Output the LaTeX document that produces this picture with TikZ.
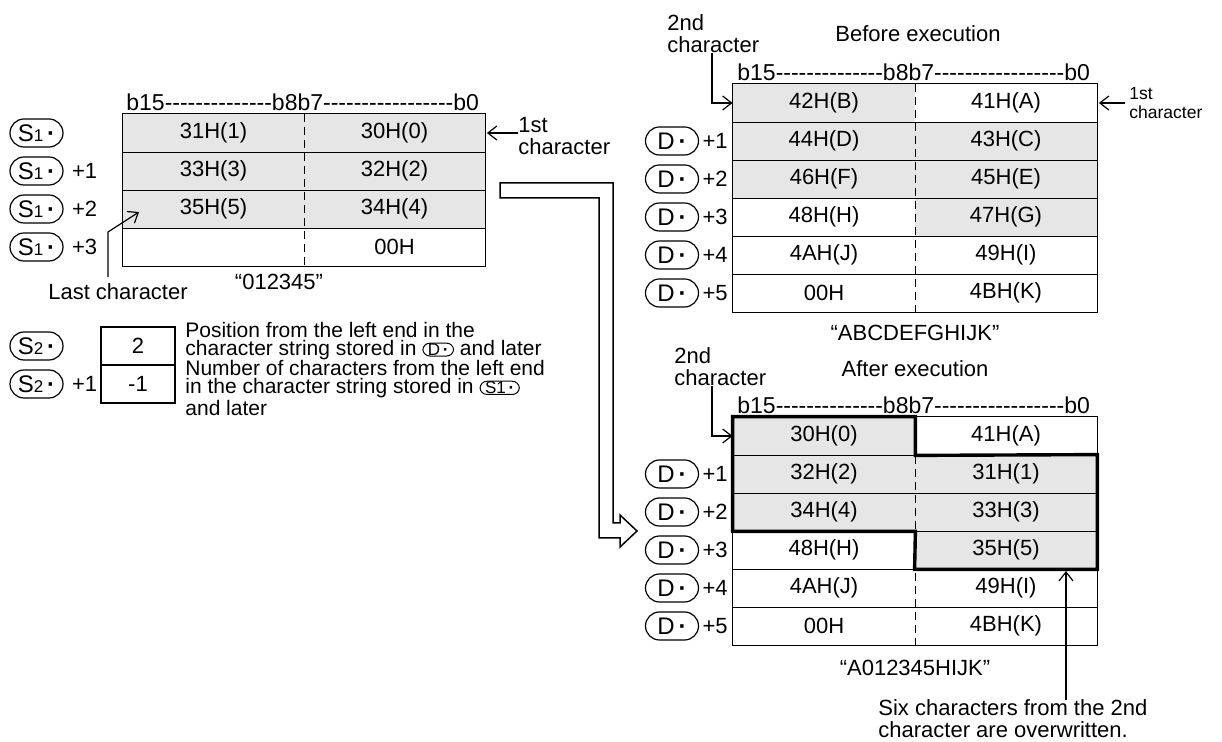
\documentclass[tikz,border=0pt]{standalone}
\usepackage{fontspec}
\setmainfont{Liberation Sans}[Ligatures=TeXOff]
\usetikzlibrary{arrows.meta,positioning}
\definecolor{cellgray}{HTML}{E6E6E6}
\newcommand{\opdot}{\,\textbf{·}}
\newcommand{\idx}[1]{{\fontsize{8.5}{9}\selectfont #1}}
\newcommand{\inlineop}[1]{\smash{\tikz[baseline=(io.base)]\node[draw, line width=0.5pt, rounded corners=3.5pt,
  inner xsep=2.5pt, inner ysep=0.3pt, font=\fontsize{8.5}{8.5}\selectfont] (io) {#1};}}

\begin{document}
\begin{tikzpicture}[x=0.5pt, y=-0.5pt,
  font=\fontsize{11}{13}\selectfont,
  cell/.style={minimum width=91pt, minimum height=19pt, inner sep=0pt},
  shaded/.style={cell, fill=cellgray},
  plain/.style={cell},
  grid/.style={line width=0.7pt},
  divider/.style={line width=0.7pt, dash pattern=on 4pt off 2.5pt},
  bold/.style={line width=1.7pt, line join=miter},
  oval/.style={draw, line width=0.6pt, rounded corners=7pt, font=\fontsize{12}{13}\selectfont,
               minimum width=26.5pt, minimum height=14pt, inner sep=0pt},
  offset/.style={inner sep=1pt},
  header/.style={inner sep=0pt, font=\fontsize{11.5}{12}\selectfont},
  label/.style={align=left, inner sep=0pt, font=\fontsize{11}{11}\selectfont},
  tiny/.style={align=left, inner sep=0pt, font=\fontsize{8.75}{9.5}\selectfont},
  note/.style={align=left, inner sep=0pt, font=\fontsize{10.5}{9}\selectfont},
  pointer/.style={-{Straight Barb[length=4.5pt,width=7pt]}, line width=0.6pt},
  hollow/.style={draw, line width=0.75pt, fill=white, line join=miter}
]
\useasboundingbox[fill=white] (0,0) rectangle (1222,742);

% source string (S1)
\foreach \i/\lt/\rt/\ls/\rs in {0/{31H(1)}/{30H(0)}/shaded/shaded, 1/{33H(3)}/{32H(2)}/shaded/shaded,
    2/{35H(5)}/{34H(4)}/shaded/shaded, 3/{}/{00H}/plain/plain}{
  \node[\ls, minimum width=90.5pt] (srcl\i) at (213.5, 133+38*\i) {\lt};
  \node[\rs, minimum width=90.5pt] (srcr\i) at (394.5, 133+38*\i) {\rt};
  \node[oval] (srco\i) at (36.5, 133+38*\i) {S\idx{1}\opdot};
  \ifnum\i>0 \node[offset, right=3pt of srco\i] (srcn\i) {+\i};\fi
}
\draw[grid] (srcl0.north west) rectangle (srcr3.south east);
\foreach \i in {0,1,2} \draw[grid] (srcl\i.south west) -- (srcr\i.south east);
\draw[divider] (srcl0.north east) -- (srcl3.south east);
\node[header, anchor=base west] (srchead) at (126, 111) {b15--------------b8b7-----------------b0};
\node (srcstr) at (279, 282) {“012345”};

\node[label, anchor=west] (srcfirst) at (518, 136) {1st\\character};
\draw[pointer] (srcfirst.west |- srcr0.east) -- ([xshift=0.75pt]srcr0.east);

\node (lastlbl) at (118, 292) {Last character};
\coordinate (lastbend) at (108, 232);
\coordinate (lasttip) at (139, 212);
\draw[pointer] (lastlbl.north -| lastbend) -- (lastbend) -- (lasttip);

% parameters (S2)
\node[cell, draw, line width=0.7pt, minimum width=37pt] (parl0) at (138, 346) {2};
\node[cell, draw, line width=0.7pt, minimum width=37pt] (parl1) at (138, 384) {-1};
\node[oval] (paro0) at (36.5, 346) {S\idx{2}\opdot};
\node[oval] (paro1) at (36.5, 384) {S\idx{2}\opdot};
\node[offset, right=3pt of paro1] (parn1) {+1};
\node[note, anchor=west] (posnote) at (185, 341)
  {Position from the left end in the\\character string stored in \inlineop{D\opdot} and later};
\node[note, anchor=west] (numnote) at (185, 388)
  {Number of characters from the left end\\in the character string stored in \inlineop{S\idx{1}\opdot}\\and later};

% transfer arrow
\draw[hollow] (500,183) -- (613,183) -- (613,523) -- (620,523) -- (620,515) -- (637,531)
  -- (620,547) -- (620,538) -- (599,538) -- (599,198) -- (500,198) -- cycle;

% before execution
\foreach \i/\lt/\rt/\ls/\rs in {0/{42H(B)}/{41H(A)}/shaded/plain, 1/{44H(D)}/{43H(C)}/shaded/shaded,
    2/{46H(F)}/{45H(E)}/shaded/shaded, 3/{48H(H)}/{47H(G)}/plain/shaded,
    4/{4AH(J)}/{49H(I)}/plain/plain, 5/{00H}/{4BH(K)}/plain/plain}{
  \node[\ls] (befl\i) at (824, 103+38*\i) {\lt};
  \node[\rs] (befr\i) at (1006, 103+38*\i) {\rt};
  \ifnum\i>0
    \node[oval] (befo\i) at (672, 103+38*\i) {D\opdot};
    \node[offset, right=0.5pt of befo\i] (befn\i) {+\i};
  \fi
}
\draw[grid] (befl0.north west) rectangle (befr5.south east);
\foreach \i in {0,...,4} \draw[grid] (befl\i.south west) -- (befr\i.south east);
\draw[divider] (befl0.north east) -- (befl5.south east);
\node[header, anchor=base west] (befhead) at (737, 81) {b15--------------b8b7-----------------b0};
\node (befcap) at (918, 34) {Before execution};
\node (befstr) at (915, 333) {“ABCDEFGHIJK”};

\node[label, anchor=west] (befsec) at (667, 34) {2nd\\character};
\coordinate (befbend) at (712, 103);
\draw[pointer] (befsec.south -| befbend) -- (befbend) -- (befl0.west);
\node[tiny, anchor=west] (beffirst) at (1129, 103) {1st\\character};
\draw[pointer] ([xshift=-2pt]beffirst.west) -- ([xshift=0.75pt]befr0.east);

% after execution
\foreach \i/\lt/\rt/\ls/\rs in {0/{30H(0)}/{41H(A)}/shaded/plain, 1/{32H(2)}/{31H(1)}/shaded/shaded,
    2/{34H(4)}/{33H(3)}/shaded/shaded, 3/{48H(H)}/{35H(5)}/plain/shaded,
    4/{4AH(J)}/{49H(I)}/plain/plain, 5/{00H}/{4BH(K)}/plain/plain}{
  \node[\ls] (aftl\i) at (824, 436+38*\i) {\lt};
  \node[\rs] (aftr\i) at (1006, 436+38*\i) {\rt};
  \ifnum\i>0
    \node[oval] (afto\i) at (672, 436+38*\i) {D\opdot};
    \node[offset, right=0.5pt of afto\i] (aftn\i) {+\i};
  \fi
}
\draw[grid] (aftl0.north west) rectangle (aftr5.south east);
\foreach \i in {0,...,4} \draw[grid] (aftl\i.south west) -- (aftr\i.south east);
\draw[divider] (aftl0.north east) -- (aftl5.south east);
\draw[bold] (aftl0.north west) -- (aftl0.north east) -- (aftl0.south east) -- (aftr1.north east)
  -- (aftr3.south east) -- (aftr3.south west) -- (aftl2.south east) -- (aftl2.south west) -- cycle;
\node[header, anchor=base west] (afthead) at (737, 414) {b15--------------b8b7-----------------b0};
\node (aftcap) at (915, 369) {After execution};
\node (aftstr) at (915, 668) {“A012345HIJK”};

\node[label, anchor=west] (aftsec) at (674, 367) {2nd\\character};
\coordinate (aftbend) at (712, 436);
\draw[pointer] (aftsec.south -| aftbend) -- (aftbend) -- (aftl0.west);

\node[label, anchor=west] (sixlbl) at (878, 719) {Six characters from the 2nd\\character are overwritten.};
\coordinate (sixtip) at (1066, 571);
\draw[pointer] (sixlbl.north -| sixtip) -- (sixtip);
\end{tikzpicture}
\end{document}
